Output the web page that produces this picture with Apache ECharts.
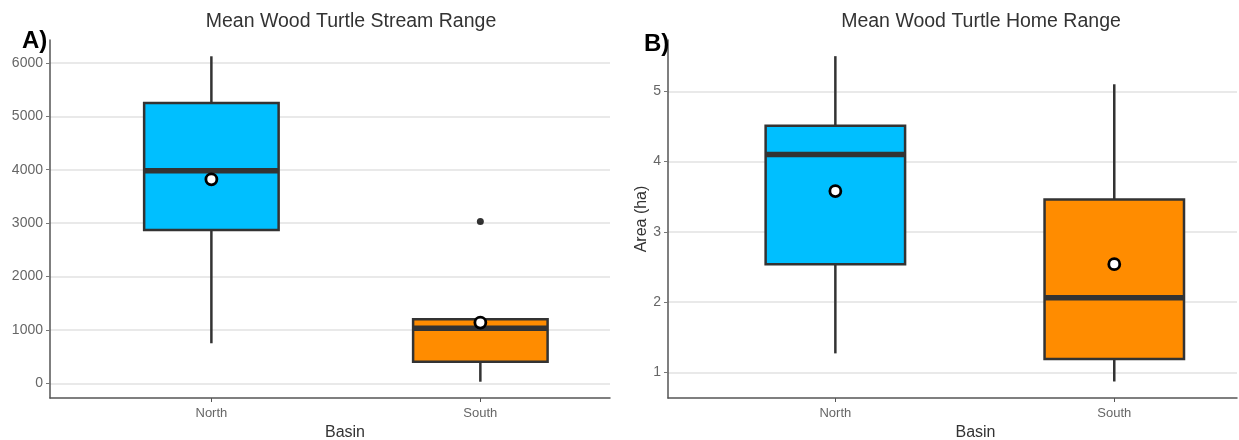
<!DOCTYPE html>
<html>
<head>
<meta charset="utf-8">
<script src="https://cdn.jsdelivr.net/npm/echarts@6/dist/echarts.min.js"></script>
<style>
  html, body { margin: 0; padding: 0; background: #fff; }
  #chart { width: 1239px; height: 440px; }
</style>
</head>
<body>
<div id="chart"></div>
<script>
// categories (x position = index + 1)
const basins = ["North", "South"];

// A) stream range: [lower whisker, Q1, median, Q3, upper whisker]
const streamBoxes = [
  [750, 2870, 3980, 5250, 6125],
  [30, 406, 1030, 1200, 1200],
];
const streamMeans = [3820, 1137];
const streamOutliers = [[2, 3030]]; // [basin position, value]
const streamTicks = [0, 1000, 2000, 3000, 4000, 5000, 6000];

// B) home range (ha)
const homeBoxes = [
  [1.27, 2.54, 4.10, 4.51, 5.50],
  [0.87, 1.19, 2.06, 3.46, 5.10],
];
const homeMeans = [3.58, 2.54];
const homeTicks = [1, 2, 3, 4, 5];

const fillColors = ["#00BFFF", "#FF8C00"];
const BOX_HALF = 0.25;
const FONT = "Liberation Sans";

let chart = echarts.init(document.getElementById("chart"));

// whiskers, box and median drawn from the axis scales
function renderBox(params, api) {
  const x = api.value(0);
  const lo = api.coord([x, api.value(1)]);
  const q1 = api.coord([x, api.value(2)]);
  const med = api.coord([x, api.value(3)]);
  const q3 = api.coord([x, api.value(4)]);
  const hi = api.coord([x, api.value(5)]);
  const left = api.coord([x - BOX_HALF, api.value(3)])[0];
  const right = api.coord([x + BOX_HALF, api.value(3)])[0];
  const stroke = "#333";
  return {
    type: "group",
    children: [
      { type: "line", shape: { x1: lo[0], y1: lo[1], x2: q1[0], y2: q1[1] }, style: { stroke: stroke, lineWidth: 2.5 } },
      { type: "line", shape: { x1: q3[0], y1: q3[1], x2: hi[0], y2: hi[1] }, style: { stroke: stroke, lineWidth: 2.5 } },
      {
        type: "rect",
        shape: { x: left, y: q3[1], width: right - left, height: q1[1] - q3[1] },
        style: { fill: fillColors[params.dataIndex], stroke: stroke, lineWidth: 2.5 },
      },
      { type: "line", shape: { x1: left, y1: med[1], x2: right, y2: med[1] }, style: { stroke: stroke, lineWidth: 5.5 } },
    ],
  };
}

function xAxisFor(gridIndex, max, namePad) {
  return {
    gridIndex: gridIndex,
    type: "value",
    min: 0.4,
    max: max,
    name: "Basin",
    nameLocation: "middle",
    nameGap: 27,
    nameTextStyle: { color: "#333", fontSize: 16, fontFamily: FONT, padding: [0, 0, 0, namePad] },
    axisLine: { show: true, onZero: false, lineStyle: { color: "#555", width: 1.5 } },
    axisTick: { show: true, length: 4, customValues: [1, 2], lineStyle: { color: "#555" } },
    axisLabel: {
      customValues: [1, 2],
      color: "#666",
      fontSize: 13,
      fontFamily: FONT,
      margin: 9,
      formatter: function (v) {
        return basins[Math.round(v) - 1];
      },
    },
    splitLine: { show: false },
  };
}

function yAxisFor(gridIndex, min, max, ticks, name) {
  return {
    gridIndex: gridIndex,
    type: "value",
    min: min,
    max: max,
    name: name,
    nameLocation: "middle",
    nameRotate: 90,
    nameGap: 18,
    nameTextStyle: { color: "#333", fontSize: 16, fontFamily: FONT },
    axisLine: { show: true, onZero: false, lineStyle: { color: "#555", width: 1.5 } },
    axisTick: { show: true, length: 4, customValues: ticks, lineStyle: { color: "#777" } },
    axisLabel: {
      customValues: ticks,
      color: "#666",
      fontSize: 14,
      fontFamily: FONT,
      margin: 7,
      formatter: function (v) {
        return String(v);
      },
    },
    splitLine: { show: true, lineStyle: { color: "#e2e2e2", width: 1.5 } },
  };
}

function meanSeries(idx, means) {
  return {
    type: "scatter",
    xAxisIndex: idx,
    yAxisIndex: idx,
    symbol: "circle",
    symbolSize: 11,
    itemStyle: { color: "#fff", borderColor: "#000", borderWidth: 2.8, opacity: 1 },
    data: means.map((v, i) => [i + 1, v]),
    z: 5,
  };
}

chart.setOption({
  animation: false,
  title: [
    { text: "Mean Wood Turtle Stream Range", left: 346, top: 7, textAlign: "center",
      textStyle: { fontSize: 19.5, fontWeight: "normal", color: "#333", fontFamily: FONT } },
    { text: "Mean Wood Turtle Home Range", left: 976, top: 7, textAlign: "center",
      textStyle: { fontSize: 19.5, fontWeight: "normal", color: "#333", fontFamily: FONT } },
    { text: "A)", left: 17, top: 24, textStyle: { fontSize: 24, fontWeight: "bold", color: "#000", fontFamily: FONT } },
    { text: "B)", left: 639, top: 27, textStyle: { fontSize: 24, fontWeight: "bold", color: "#000", fontFamily: FONT } },
  ],
  grid: [
    { left: 50, top: 40, width: 560, height: 358, outerBoundsMode: "none", containLabel: false },
    { left: 668, top: 40, width: 569, height: 358, outerBoundsMode: "none", containLabel: false },
  ],
  xAxis: [xAxisFor(0, 2.482, 30), xAxisFor(1, 2.44, 46)],
  yAxis: [
    yAxisFor(0, -275, 6430, streamTicks, ""),
    yAxisFor(1, 0.635, 5.73, homeTicks, "Area (ha)"),
  ],
  series: [
    {
      type: "custom",
      xAxisIndex: 0,
      yAxisIndex: 0,
      renderItem: renderBox,
      encode: { x: 0, y: [1, 2, 3, 4, 5] },
      data: streamBoxes.map((b, i) => [i + 1].concat(b)),
    },
    {
      type: "custom",
      xAxisIndex: 1,
      yAxisIndex: 1,
      renderItem: renderBox,
      encode: { x: 0, y: [1, 2, 3, 4, 5] },
      data: homeBoxes.map((b, i) => [i + 1].concat(b)),
    },
    meanSeries(0, streamMeans),
    meanSeries(1, homeMeans),
    {
      type: "scatter",
      xAxisIndex: 0,
      yAxisIndex: 0,
      symbol: "circle",
      symbolSize: 7,
      itemStyle: { color: "#000" },
      data: streamOutliers,
      z: 5,
    },
  ],
});
</script>
</body>
</html>
